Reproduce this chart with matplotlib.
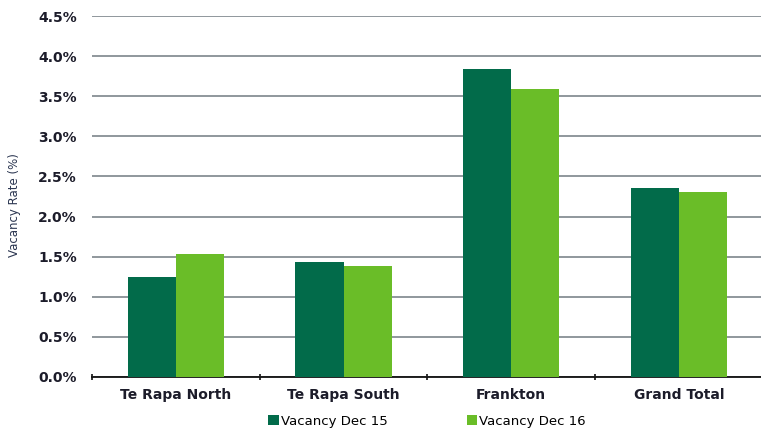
import numpy as np
import matplotlib
matplotlib.use("Agg")
from matplotlib import pyplot as plt
from matplotlib.ticker import FuncFormatter

# data
categories = ["Te Rapa North", "Te Rapa South", "Frankton", "Grand Total"]
vacancy_dec15 = [1.25, 1.43, 3.84, 2.36]
vacancy_dec16 = [1.53, 1.38, 3.59, 2.30]
series_names = ["Vacancy Dec 15", "Vacancy Dec 16"]

DARK = "#026b4a"
LIGHT = "#6abd28"
TXT = "#1c1c2a"

plt.rcParams["font.family"] = ["DejaVu Sans"]

fig = plt.figure(figsize=(7.61, 4.29), dpi=100)
ax = fig.add_axes([92 / 761, 52 / 429, 1 - 92 / 761, 361 / 429])

x = np.arange(len(categories))
w = 0.287
ax.bar(x - w / 2, vacancy_dec15, w, color=DARK, label=series_names[0], zorder=3)
ax.bar(x + w / 2, vacancy_dec16, w, color=LIGHT, label=series_names[1], zorder=3)

ax.set_ylim(0, 4.5)
ax.set_xlim(-0.5, 3.49)
ax.set_yticks(np.arange(0, 4.51, 0.5))
ax.yaxis.set_major_formatter(FuncFormatter(lambda v, p: "%.1f%%" % v))
ax.grid(axis="y", color="#8f979c", linewidth=1.4, zorder=0)
ax.set_axisbelow(True)

for s in ["top", "right", "left"]:
    ax.spines[s].set_visible(False)
ax.spines["bottom"].set_linewidth(1.3)
ax.spines["bottom"].set_color("#111111")

# category ticks between the groups
ax.set_xticks(np.arange(-0.5, 2.6, 1.0))
ax.set_xticklabels([])
ax.set_xticks(x, minor=True)
ax.set_xticklabels(categories, minor=True, fontsize=10, fontweight="bold", color=TXT)
ax.tick_params(axis="x", which="major", length=5, width=1.2, direction="inout", color="#111111")
ax.tick_params(axis="x", which="minor", length=0, pad=8)
ax.tick_params(axis="y", length=0, pad=11, labelsize=10, labelcolor=TXT)
for t in ax.get_yticklabels():
    t.set_fontweight("bold")

fig.text(15 / 761, 1 - 205 / 429, "Vacancy Rate (%)", rotation=90, ha="center", va="center",
         fontsize=8.5, color="#2a3550")

fig.legend(loc="center", bbox_to_anchor=(427 / 761, 1 - 421 / 429), ncol=2, frameon=False,
           handlelength=0.8, handleheight=0.8, handletextpad=0.15, columnspacing=6.0,
           prop={"size": 9.5})

plt.savefig("out.png", dpi=100)
